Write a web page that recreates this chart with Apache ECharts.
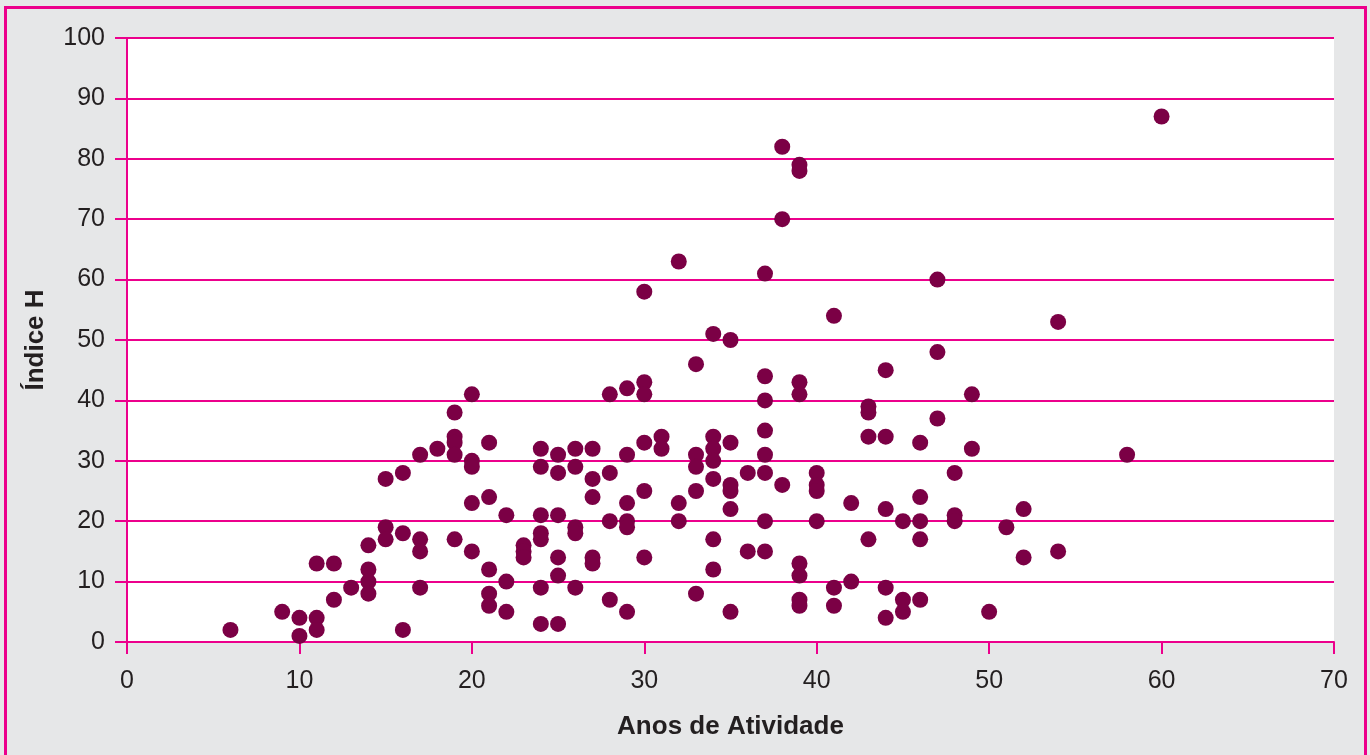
<!DOCTYPE html>
<html>
<head>
<meta charset="utf-8">
<title>Índice H x Anos de Atividade</title>
<script src="https://cdn.jsdelivr.net/npm/echarts/dist/echarts.min.js"></script>
<style>
  html, body { margin: 0; padding: 0; background: #e6e7e8; }
  #frame {
    position: absolute; left: 4px; top: 6px; width: 1363px; height: 760px;
    border: 3px solid #ec008c; box-sizing: border-box;
  }
  #chart { position: absolute; left: 0; top: 0; width: 1370px; height: 755px; }
</style>
</head>
<body>
<div id="frame"></div>
<div id="chart"></div>
<script>
// anos de atividade (x) e índice H (y), um ponto por pesquisador
const anos = [
  6, 9, 10, 10, 11, 11, 11, 12, 12, 13,
  14, 14, 14, 14, 15, 15, 15, 16, 16, 16,
  17, 17, 17, 17, 18, 19, 19, 19, 19, 19,
  20, 20, 20, 20, 20, 21, 21, 21, 21, 21,
  22, 22, 22, 23, 23, 23,
  24, 24, 24, 24, 24, 24, 24,
  25, 25, 25, 25, 25, 25,
  26, 26, 26, 26, 26,
  27, 27, 27, 27, 27,
  28, 28, 28, 28,
  29, 29, 29, 29, 29, 29,
  30, 30, 30, 30, 30, 30,
  31, 31, 32, 32, 32,
  33, 33, 33, 33, 33,
  34, 34, 34, 34, 34, 34, 34,
  35, 35, 35, 35, 35, 35,
  36, 36,
  37, 37, 37, 37, 37, 37, 37, 37,
  38, 38, 38,
  39, 39, 39, 39, 39, 39, 39, 39,
  40, 40, 40, 40,
  41, 41, 41, 42, 42,
  43, 43, 43, 43,
  44, 44, 44, 44, 44,
  45, 45, 45,
  46, 46, 46, 46, 46,
  47, 47, 47, 48, 48, 48, 49, 49,
  50, 51, 52, 52, 54, 54, 58, 60
];
const indiceH = [
  2, 5, 4, 1, 13, 4, 2, 13, 7, 9,
  16, 12, 10, 8, 27, 19, 17, 28, 18, 2,
  31, 17, 15, 9, 32, 38, 34, 33, 31, 17,
  41, 30, 29, 23, 15, 33, 24, 12, 8, 6,
  21, 10, 5, 16, 15, 14,
  32, 29, 21, 18, 17, 9, 3,
  31, 28, 21, 14, 11, 3,
  32, 29, 19, 18, 9,
  32, 27, 24, 14, 13,
  41, 28, 20, 7,
  42, 31, 23, 20, 19, 5,
  58, 43, 41, 33, 25, 14,
  34, 32, 63, 23, 20,
  46, 31, 29, 25, 8,
  51, 34, 32, 30, 27, 17, 12,
  50, 33, 26, 25, 22, 5,
  28, 15,
  61, 44, 40, 35, 31, 28, 20, 15,
  82, 70, 26,
  79, 78, 43, 41, 13, 11, 7, 6,
  28, 26, 25, 20,
  54, 9, 6, 23, 10,
  39, 38, 34, 17,
  45, 34, 22, 9, 4,
  20, 7, 5,
  33, 24, 20, 17, 7,
  60, 48, 37, 28, 21, 20, 41, 32,
  5, 19, 22, 14, 53, 15, 31, 87
];
const xTicks = [0, 70, 10];   // min, max, intervalo
const yTicks = [0, 100, 10];

const magenta = '#ec008c';
const textColor = '#231f20';
const fontFamily = "'Liberation Sans', Arial, sans-serif";

const pontos = anos.map((a, i) => [a, indiceH[i]]);

const chart = echarts.init(document.getElementById('chart'));
chart.setOption({
  animation: false,
  grid: {
    left: 127, right: 36, top: 38, bottom: 113,
    show: true, backgroundColor: '#fff', borderWidth: 0
  },
  xAxis: {
    type: 'value',
    min: xTicks[0], max: xTicks[1], interval: xTicks[2],
    name: 'Anos de Atividade',
    nameLocation: 'middle',
    nameGap: 72,
    nameTextStyle: { color: textColor, fontSize: 26, fontWeight: 'bold', fontFamily: fontFamily },
    axisLine: { show: true, onZero: false, lineStyle: { color: magenta, width: 2 } },
    axisTick: { show: true, length: 12, lineStyle: { color: magenta, width: 2 } },
    axisLabel: { color: textColor, fontSize: 25, margin: 27, fontFamily: fontFamily },
    splitLine: { show: false }
  },
  yAxis: {
    type: 'value',
    min: yTicks[0], max: yTicks[1], interval: yTicks[2],
    name: 'Índice H',
    nameLocation: 'middle',
    nameGap: 78,
    nameTextStyle: { color: textColor, fontSize: 26, fontWeight: 'bold', fontFamily: fontFamily },
    axisLine: { show: true, lineStyle: { color: magenta, width: 2 } },
    axisTick: { show: true, length: 12, lineStyle: { color: magenta, width: 2 } },
    axisLabel: { color: textColor, fontSize: 25, margin: 22, fontFamily: fontFamily },
    splitLine: { show: true, lineStyle: { color: magenta, width: 2 } }
  },
  series: [{
    type: 'scatter',
    data: pontos,
    symbol: 'circle',
    symbolSize: 16,
    itemStyle: { color: '#7b0045', opacity: 1 }
  }]
});
</script>
</body>
</html>
